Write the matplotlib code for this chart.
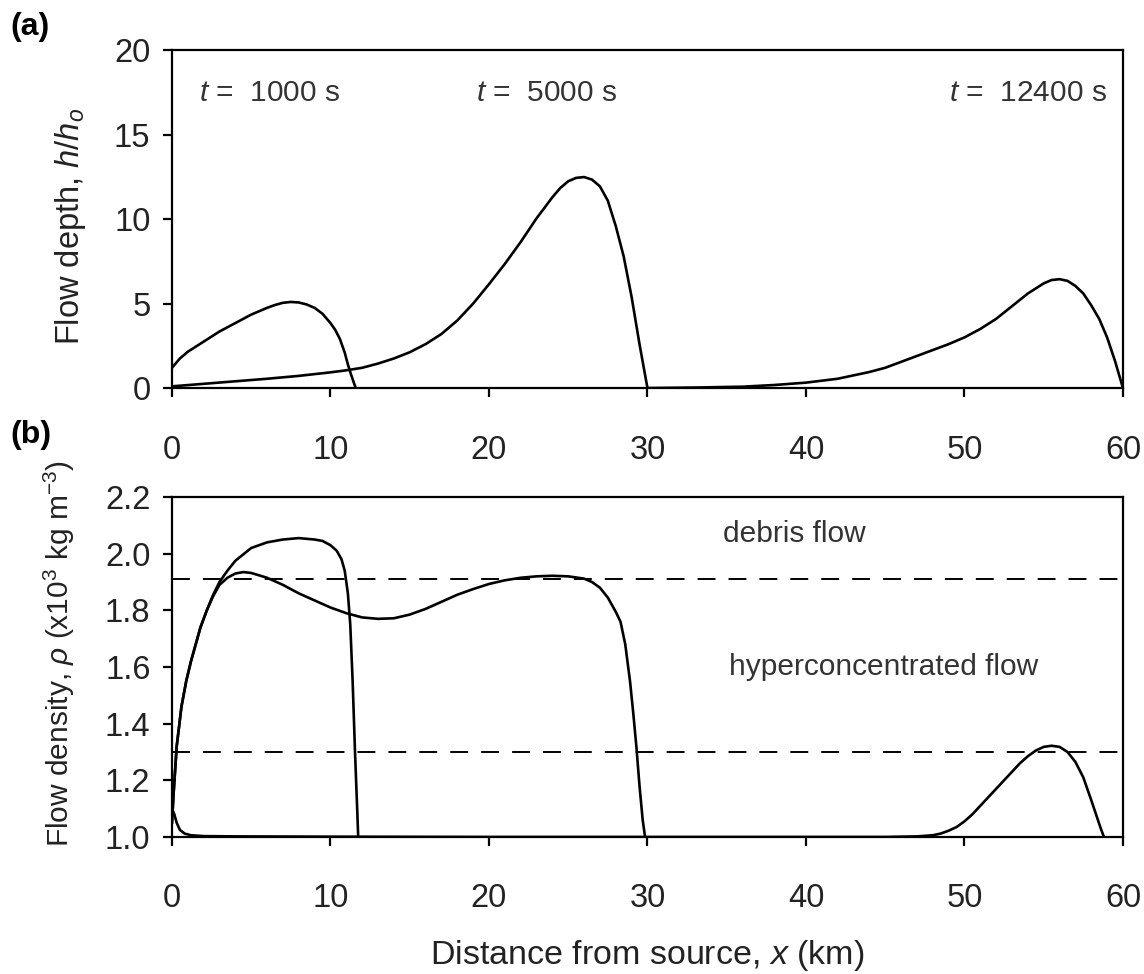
import matplotlib
matplotlib.use("Agg")
import matplotlib.pyplot as plt

# panel (a): flow depth h/h0
x_a1 = [0, 0.5, 1, 1.5, 2, 2.5, 3, 3.5, 4, 4.5, 5, 5.5, 6, 6.5, 7, 7.5, 8, 8.5, 9, 9.5,
        10, 10.3, 10.6, 10.9, 11.1, 11.3, 11.5, 11.6]
h_a1 = [1.2, 1.75, 2.15, 2.45, 2.75, 3.05, 3.35, 3.6, 3.85, 4.1, 4.35, 4.55, 4.75, 4.92, 5.05,
        5.1, 5.07, 4.95, 4.75, 4.4, 3.85, 3.45, 2.9, 2.1, 1.4, 0.8, 0.25, 0.0]

x_a2 = [0, 2, 4, 6, 8, 10, 11, 12, 13, 14, 15, 16, 17, 18, 19, 20, 21, 22, 23, 24, 24.5,
        25, 25.5, 26, 26.5, 27, 27.5, 28, 28.5, 29, 29.5, 30]
h_a2 = [0.1, 0.25, 0.4, 0.55, 0.72, 0.93, 1.05, 1.2, 1.45, 1.75, 2.12, 2.6, 3.2, 4.0, 5.0,
        6.15, 7.35, 8.65, 10.05, 11.3, 11.85, 12.25, 12.45, 12.5, 12.35, 11.95, 11.1, 9.6,
        7.8, 5.4, 2.6, 0.0]

x_a3 = [30, 33, 36, 38, 40, 42, 44, 45, 46, 47, 48, 49, 50, 51, 52, 53, 54, 55, 55.5, 56,
        56.5, 57, 57.5, 58, 58.5, 59, 59.5, 60]
h_a3 = [0.0, 0.03, 0.08, 0.18, 0.32, 0.55, 0.95, 1.2, 1.55, 1.9, 2.25, 2.6, 3.0, 3.5, 4.1,
        4.85, 5.6, 6.2, 6.4, 6.45, 6.35, 6.05, 5.6, 4.9, 4.1, 3.0, 1.6, 0.0]

# panel (b): flow density (x10^3 kg m^-3)
x_b1 = [0, 0.1, 0.3, 0.6, 0.9, 1.2, 1.5, 1.8, 2.2, 2.6, 3.0, 3.5, 4, 5, 6, 7, 8, 9, 9.5, 10,
        10.4, 10.7, 10.9, 11.1, 11.25, 11.4, 11.55, 11.7, 11.75]
r_b1 = [1.05, 1.15, 1.32, 1.46, 1.55, 1.62, 1.68, 1.74, 1.80, 1.855, 1.9, 1.94, 1.975, 2.02,
        2.04, 2.05, 2.055, 2.05, 2.045, 2.03, 2.01, 1.98, 1.94, 1.86, 1.75, 1.55, 1.3, 1.08, 1.0]

x_b2 = [0, 0.1, 0.3, 0.6, 0.9, 1.2, 1.5, 1.8, 2.2, 2.6, 3.0, 3.5, 4, 4.5, 5, 6, 7, 8, 9, 10,
        11, 12, 13, 14, 15, 16, 17, 18, 19, 20, 21, 22, 23, 24, 25, 26, 26.5, 27, 27.5, 28,
        28.3, 28.6, 28.9, 29.1, 29.3, 29.5, 29.7, 29.85]
r_b2 = [1.05, 1.15, 1.32, 1.46, 1.55, 1.62, 1.68, 1.74, 1.80, 1.85, 1.89, 1.915, 1.93, 1.935,
        1.932, 1.915, 1.89, 1.86, 1.835, 1.81, 1.79, 1.775, 1.77, 1.772, 1.785, 1.805, 1.83,
        1.855, 1.875, 1.893, 1.906, 1.915, 1.92, 1.922, 1.92, 1.912, 1.9, 1.88, 1.845, 1.795,
        1.76, 1.68, 1.55, 1.44, 1.32, 1.18, 1.06, 1.0]

x_b3 = [0, 0.15, 0.3, 0.5, 0.8, 1.2, 2, 4, 10, 20, 30, 40, 45, 47, 48, 48.5, 49, 49.5, 50,
        50.5, 51, 51.5, 52, 52.5, 53, 53.5, 54, 54.5, 55, 55.5, 56, 56.5, 57, 57.5, 58, 58.3,
        58.6, 58.8]
r_b3 = [1.1, 1.08, 1.05, 1.025, 1.012, 1.006, 1.003, 1.002, 1.001, 1.0, 1.0, 1.0, 1.0, 1.002,
        1.006, 1.012, 1.022, 1.035, 1.055, 1.08, 1.11, 1.14, 1.17, 1.2, 1.23, 1.26, 1.285,
        1.305, 1.318, 1.322, 1.318, 1.3, 1.265, 1.21, 1.13, 1.08, 1.03, 1.0]

thresholds = [1.91, 1.3]
time_labels = ["1000 s", "5000 s", "12400 s"]

plt.rcParams.update({
    "font.family": ["Liberation Sans", "DejaVu Sans"],
    "mathtext.fontset": "custom",
    "mathtext.rm": "Liberation Sans",
    "mathtext.it": "Liberation Sans:italic",
    "font.size": 22,
})

fig = plt.figure(figsize=(11.44, 9.74), dpi=100)
ax1 = fig.add_axes([0.1503, 0.6016, 0.8313, 0.3466])
ax2 = fig.add_axes([0.1503, 0.1407, 0.8313, 0.3490])

line_kw = dict(color="black", lw=1.9)
ax1.plot(x_a1, h_a1, **line_kw)
ax1.plot(x_a2, h_a2, **line_kw)
ax1.plot(x_a3, h_a3, **line_kw)
ax2.plot(x_b1, r_b1, **line_kw)
ax2.plot(x_b2, r_b2, **line_kw)
ax2.plot(x_b3, r_b3, **line_kw)
for th in thresholds:
    ax2.axhline(th, color="black", lw=1.4, ls=(0, (9.2, 6.7)))

ax1.set_xlim(0, 60)
ax1.set_ylim(0, 20)
ax1.set_yticks([0, 5, 10, 15, 20])
ax2.set_xlim(0, 60)
ax2.set_ylim(1.0, 2.2)
ax2.set_yticks([1.0, 1.2, 1.4, 1.6, 1.8, 2.0, 2.2])
ax2.set_yticklabels(["1.0", "1.2", "1.4", "1.6", "1.8", "2.0", "2.2"])

for ax in (ax1, ax2):
    ax.set_xticks([0, 10, 20, 30, 40, 50, 60])
    for sp in ax.spines.values():
        sp.set_linewidth(1.6)
    ax.tick_params(direction="out", length=6.5, width=1.6, labelsize=23.5,
                   labelcolor="#222222", pad=9)
    ax.tick_params(axis="x", pad=27)

txt = dict(fontsize=21.5, color="#333333", va="center")
ax1.text(1.7, 17.5, r"$t$ =  " + time_labels[0], ha="left", **txt)
ax1.text(19.2, 17.5, r"$t$ =  " + time_labels[1], ha="left", **txt)
ax1.text(59.0, 17.5, r"$t$ =  " + time_labels[2], ha="right", **txt)
ax2.text(39.3, 2.068, "debris flow", ha="center", **txt)
ax2.text(44.9, 1.60, "hyperconcentrated flow", ha="center", **txt)

ax1.set_ylabel(r"Flow depth, $h/h_o$", fontsize=23.5, color="#222222")
ax1.yaxis.set_label_coords(-0.088, 0.48)
ax2.set_ylabel(r"Flow density, $\rho$ (x10$^{3}$ kg m$^{-3}$)", fontsize=21.5, color="#222222")
ax2.yaxis.set_label_coords(-0.1, 0.54)
ax2.set_xlabel(r"Distance from source, $x$ (km)", fontsize=24.5, color="#222222", labelpad=17)

fig.text(0.009, 0.972, "(a)", fontsize=23, fontweight="bold", va="center", ha="left")
fig.text(0.009, 0.553, "(b)", fontsize=23, fontweight="bold", va="center", ha="left")

fig.savefig("out.png", dpi=100)
